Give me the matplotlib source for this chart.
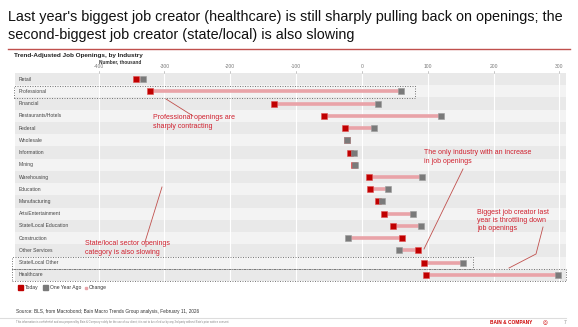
import numpy as np
import matplotlib.pyplot as plt
from matplotlib.patches import Rectangle
from matplotlib.lines import Line2D

plt.rcParams['font.family'] = ['Liberation Sans', 'DejaVu Sans']

# Dados (mil vagas)
industrias = ['Retail', 'Professional', 'Financial', 'Restaurants/Hotels', 'Federal',
              'Wholesale', 'Information', 'Mining', 'Warehousing', 'Education',
              'Manufacturing', 'Arts/Entertainment', 'State/Local Education',
              'Construction', 'Other Services', 'State/Local Other', 'Healthcare']
hoje = [-343, -322, -134, -58, -26, -23, -18, -12, 10, 12, 24, 34, 47, 61, 85, 94, 98]
ano_passado = [-332, 59, 24, 120, 19, -22, -12, -11, 92, 40, 30, 78, 89, -21, 57, 153, 298]
ticks = [-400, -300, -200, -100, 0, 100, 200, 300]

VERMELHO = '#c00000'
CINZA = '#7a7a7a'
ROSA = '#e9a3a8'
TXT_VERM = '#d0202e'

W, H = 578, 327
fig = plt.figure(figsize=(W / 100, H / 100), dpi=100)

def fx(x):
    return x / W

def fy(y):
    return 1 - y / H

# Eixo principal em coordenadas de pixel
x0, x1, y0, y1 = 15, 566, 73, 281
ax = fig.add_axes([fx(x0), fy(y1), (x1 - x0) / W, (y1 - y0) / H])
n = len(industrias)
ax.set_xlim(-527, 310)
ax.set_ylim(n - 0.5, -0.5)
for i in range(n):
    ax.axhspan(i - 0.5, i + 0.5, color='#e9e9e9' if i % 2 == 0 else '#f3f3f3', lw=0, zorder=0)
for t in ticks:
    ax.axvline(t, color='white', lw=0.8, zorder=1)
for s in ax.spines.values():
    s.set_visible(False)
ax.set_xticks([])
ax.set_yticks([])

y = np.arange(n)
ax.hlines(y, hoje, ano_passado, color=ROSA, lw=2.6, zorder=2)
ax.scatter(hoje, y, marker='s', s=14, color=VERMELHO, edgecolor='#e05050', lw=0.4, zorder=3)
ax.scatter(ano_passado, y, marker='s', s=14, color=CINZA, edgecolor='#9a9a9a', lw=0.4, zorder=4)

for i, nome in enumerate(industrias):
    ax.text(-521, i, nome, fontsize=3.6, color='#444444', va='center', ha='left', zorder=5)

# Rótulos do eixo x no topo
for t in ticks:
    xp = x0 + (t + 527) / 837 * (x1 - x0)
    fig.text(fx(xp), fy(67), str(t), fontsize=3.6, color='#777777', ha='center', va='center')
    fig.add_artist(Line2D([fx(xp), fx(xp)], [fy(70.5), fy(72.5)], color='#999999', lw=0.4))

# Caixas pontilhadas
def caixa(xa, ya, xb, yb):
    fig.add_artist(Rectangle((fx(xa), fy(yb)), (xb - xa) / W, (yb - ya) / H,
                             fill=False, ls=(0, (1.2, 1.8)), lw=0.6, ec='#666666', zorder=6))

caixa(14, 86, 415, 98)
caixa(12, 257, 473, 269)
caixa(12, 269, 566, 281)

# Título
fig.text(fx(8), fy(17), "Last year's biggest job creator (healthcare) is still sharply pulling back on openings; the",
         fontsize=10.35, color='#111111', ha='left', va='center')
fig.text(fx(8), fy(35), "second-biggest job creator (state/local) is also slowing",
         fontsize=10.35, color='#111111', ha='left', va='center')
fig.add_artist(Line2D([fx(8), fx(570)], [fy(49), fy(49)], color='#c0504d', lw=1.0))

fig.text(fx(14), fy(55), 'Trend-Adjusted Job Openings, by Industry', fontsize=4.6,
         fontweight='bold', color='#222222', ha='left', va='center')
fig.text(fx(120), fy(61.5), 'Number, thousand', fontsize=3.4, fontweight='bold',
         color='#333333', ha='center', va='center')

# Anotações
fig.text(fx(153), fy(122), 'Professional openings are\nsharply contracting', fontsize=5,
         color=TXT_VERM, ha='left', va='center', linespacing=1.25)
fig.add_artist(Line2D([fx(166), fx(193)], [fy(99), fy(116)], color='#c0504d', lw=0.6))

fig.text(fx(424), fy(157), 'The only industry with an increase\nin job openings', fontsize=5,
         color=TXT_VERM, ha='left', va='center', linespacing=1.25)
fig.add_artist(Line2D([fx(463), fx(424)], [fy(169), fy(249)], color='#c0504d', lw=0.6))

fig.text(fx(477), fy(221), 'Biggest job creator last\nyear is throttling down\njob openings', fontsize=5,
         color=TXT_VERM, ha='left', va='center', linespacing=1.2)
fig.add_artist(Line2D([fx(543), fx(536), fx(509)], [fy(227), fy(254), fy(268)],
                      color='#c0504d', lw=0.6))

fig.text(fx(85), fy(248), 'State/local sector openings\ncategory is also slowing', fontsize=5,
         color=TXT_VERM, ha='left', va='center', linespacing=1.25)
fig.add_artist(Line2D([fx(162), fx(145)], [fy(187), fy(242)], color='#c0504d', lw=0.6))

# Legenda
fig.add_artist(Rectangle((fx(18), fy(290)), 5 / W, 5 / H, color=VERMELHO))
fig.text(fx(25), fy(287.5), 'Today', fontsize=3.6, color='#333333', va='center')
fig.add_artist(Rectangle((fx(43), fy(290)), 5 / W, 5 / H, color=CINZA))
fig.text(fx(50), fy(287.5), 'One Year Ago', fontsize=3.6, color='#333333', va='center')
fig.add_artist(Rectangle((fx(84.5), fy(288.5)), 2 / W, 2 / H, color=ROSA))
fig.text(fx(89), fy(287.5), 'Change', fontsize=3.6, color='#333333', va='center')

# Rodapé
fig.text(fx(16), fy(311), 'Source: BLS, from Macrobond; Bain Macro Trends Group analysis, February 11, 2026',
         fontsize=3.4, color='#333333', va='center')
fig.add_artist(Line2D([fx(0), fx(566)], [fy(317.5), fy(317.5)], color='#dddddd', lw=0.8))
fig.text(fx(16), fy(322), "This information is confidential and was prepared by Bain & Company solely for the use of our client; "
         "it is not to be relied on by any 3rd party without Bain's prior written consent.",
         fontsize=2.0, color='#888888', va='center')
fig.text(fx(490), fy(322.5), 'BAIN & COMPANY', fontsize=3.4, fontweight='bold', color='#cc0000', va='center')
fig.text(fx(543), fy(322.5), '\u25CE', fontsize=4, color='#cc0000', va='center')
fig.text(fx(564), fy(322.5), '7', fontsize=3.4, color='#888888', va='center')

plt.savefig('out.png', dpi=100)
